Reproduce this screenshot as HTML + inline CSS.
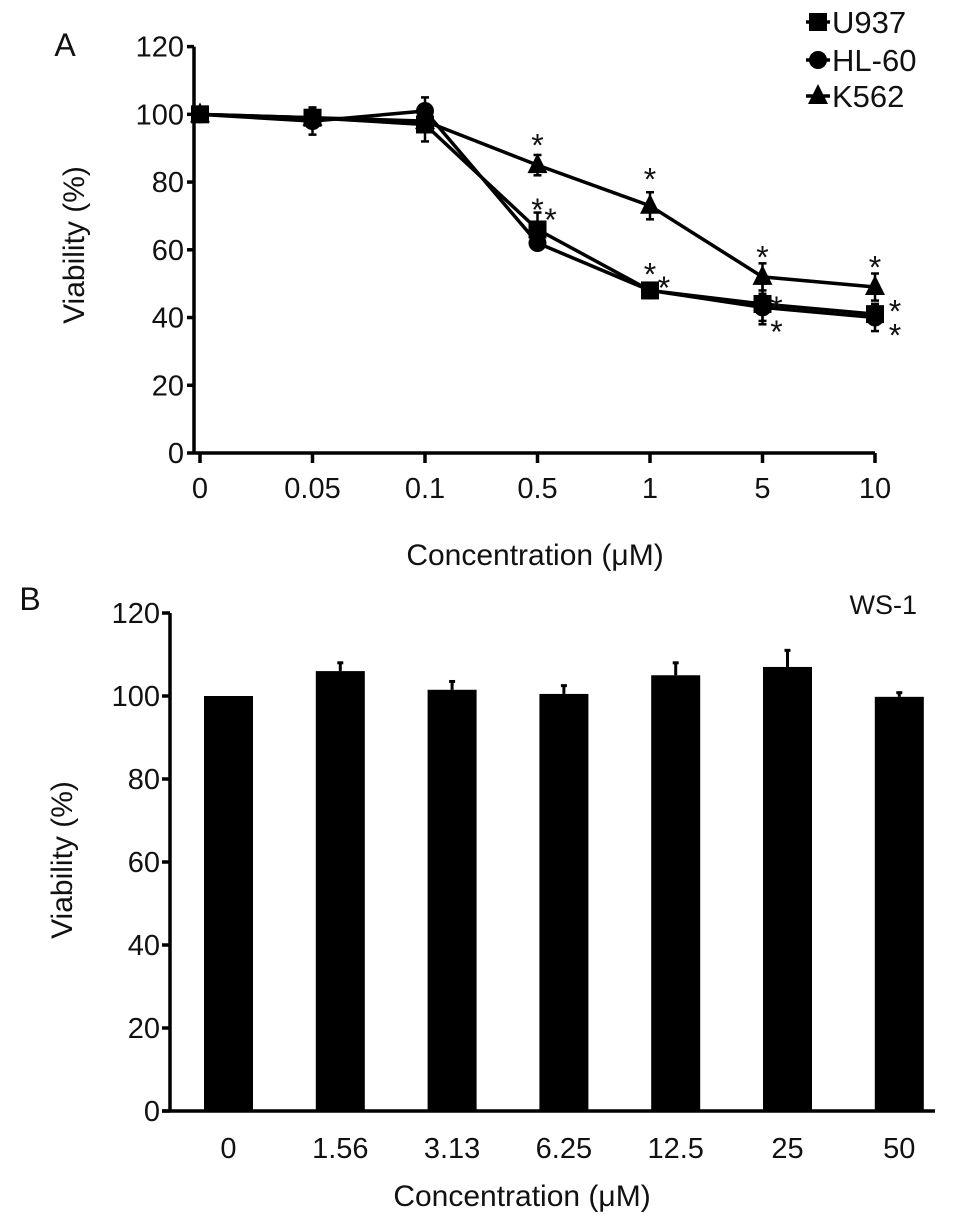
<!DOCTYPE html>
<html><head><meta charset="utf-8"><style>
body{margin:0;background:#fff}
svg text{font-family:"Liberation Sans",sans-serif;fill:#111}
</style></head><body>
<svg id="c" width="969" height="1224" xmlns="http://www.w3.org/2000/svg"></svg>
<script>
const catsA=["0","0.05","0.1","0.5","1","5","10"];
const u937=[100,99,97,66,48,44,41];
const u937Err=[2,3,5,5,2,6,3];
const hl60=[100,98,101,62,48,43,40];
const hl60Err=[2,4,4,2,2,4,4];
const k562=[100,99,98,85,73,52,49];
const k562Err=[2,2,3,3,4,4,4];
const ticksA=[0,20,40,60,80,100,120];
const catsB=["0","1.56","3.13","6.25","12.5","25","50"];
const ws1=[100,106,101.5,100.5,105,107,99.8];
const ws1Err=[0,2,2,2,3,4,1];
const ticksB=[0,20,40,60,80,100,120];

const svg=document.getElementById('c');
const NS="http://www.w3.org/2000/svg";
function mk(tag,attrs,name,parent){const e=document.createElementNS(NS,tag);for(const k in attrs)e.setAttribute(k,attrs[k]);


(parent||svg).appendChild(e);return e;}
function txt(x,y,s,size,anchor,name,extra){const t=mk('text',Object.assign({x:x,y:y,'font-size':size,'text-anchor':anchor||'middle'},extra||{}),name);t.textContent=s;return t;}

// Panel A
const ax={x0:194,x1:875,y0:453,yTop:46.6,px0:200,step:112.5};
const xA=i=>ax.px0+i*ax.step;
const yA=v=>ax.y0-v*(ax.y0-ax.yTop)/120;
txt(65,56,"A",32,"middle","panel-a-label");
mk('line',{x1:ax.x0,y1:yA(120),x2:ax.x0,y2:ax.y0,stroke:'#000','stroke-width':3.5},'y-axis-a');
mk('line',{x1:ax.x0,y1:ax.y0,x2:ax.x1,y2:ax.y0,stroke:'#000','stroke-width':3.5},'x-axis-a');
ticksA.forEach(v=>{mk('line',{x1:ax.x0-7,y1:yA(v),x2:ax.x0,y2:yA(v),stroke:'#000','stroke-width':3.5},'y-tick-a');
txt(ax.x0-10,yA(v)+10,String(v),29,"end","y-tick-label-a");});
catsA.forEach((c,i)=>{mk('line',{x1:xA(i),y1:ax.y0,x2:xA(i),y2:ax.y0+10,stroke:'#000','stroke-width':3.5},'x-tick-a');
txt(xA(i),ax.y0+45,c,29,"middle","x-tick-label-a");});
txt(535,565,"Concentration (\u03bcM)",30,"middle","x-axis-title-a");
txt(84,245,"Viability (%)",30,"middle","y-axis-title-a",{transform:"rotate(-90 84 245)"});

function series(vals,errs,shape,name){
  let d=vals.map((v,i)=>(i?'L':'M')+xA(i)+' '+yA(v)).join(' ');
  mk('path',{d:d,fill:'none',stroke:'#000','stroke-width':3.5},name+'-line');
  vals.forEach((v,i)=>{const x=xA(i),y=yA(v),e=errs[i]*(ax.y0-ax.yTop)/120;
    mk('line',{x1:x,y1:y-e,x2:x,y2:y+e,stroke:'#000','stroke-width':2.5},name+'-error-bar');
    mk('line',{x1:x-4,y1:y-e,x2:x+4,y2:y-e,stroke:'#000','stroke-width':2.5},name+'-error-cap');
    mk('line',{x1:x-4,y1:y+e,x2:x+4,y2:y+e,stroke:'#000','stroke-width':2.5},name+'-error-cap');
    marker(x,y,shape,name+'-point');});
}
function marker(x,y,shape,name){
  if(shape==='sq')mk('rect',{x:x-9,y:y-9,width:18,height:18,fill:'#000'},name);
  else if(shape==='ci')mk('circle',{cx:x,cy:y,r:9,fill:'#000'},name);
  else mk('path',{d:`M${x} ${y-12}L${x+10} ${y+8}L${x-10} ${y+8}Z`,fill:'#000'},name);
}
series(hl60,hl60Err,'ci','hl60');
series(u937,u937Err,'sq','u937');
series(k562,k562Err,'tr','k562');

// significance stars
const stars=[[3,k562[3]+9,0],[4,k562[4]+11,0],[5,k562[5]+9,0],[6,k562[6]+9,0],
[3,u937[3]+9,0],[3,u937[3]+6,13],[4,u937[4]+8,0],[4,u937[4]+4,14],[5,u937[5]+2,14],[5,hl60[5]-4,14],[6,u937[6]+4,20],[6,hl60[6]-2,20]];
stars.forEach(s=>txt(xA(s[0])+s[2],yA(s[1])+22,"*",32,"middle","significance-star",{fill:'#333'}));

// legend
[["sq","U937",22],["ci","HL-60",60],["tr","K562",96]].forEach(l=>{
  mk('line',{x1:806,y1:l[2],x2:830,y2:l[2],stroke:'#000','stroke-width':3.5},'legend-line');
  marker(818,l[2],l[0],'legend-marker');
  txt(832,l[2]+11,l[1],31,"start","legend-entry");
});

// Panel B
const bx={x0:170,x1:935,y0:1111,yTop:613};
const xB=i=>228.5+i*111.8;
const yB=v=>bx.y0-v*(bx.y0-bx.yTop)/120;
txt(30,610,"B",32,"middle","panel-b-label");
txt(917,614,"WS-1",27,"end","cell-line-label");
ws1.forEach((v,i)=>{const x=xB(i),y=yB(v),e=ws1Err[i]*(bx.y0-bx.yTop)/120;
  if(e>0){mk('line',{x1:x,y1:y-e,x2:x,y2:y,stroke:'#000','stroke-width':3},'bar-error');
  mk('line',{x1:x-3,y1:y-e,x2:x+3,y2:y-e,stroke:'#000','stroke-width':3},'bar-error-cap');}
  mk('rect',{x:x-24.5,y:y,width:49,height:bx.y0-y,fill:'#000'},'bar-'+catsB[i]);
  txt(x,bx.y0+47,catsB[i],29,"middle","x-tick-label-b");});
mk('line',{x1:bx.x0,y1:yB(120),x2:bx.x0,y2:bx.y0,stroke:'#000','stroke-width':3.5},'y-axis-b');
mk('line',{x1:bx.x0-8,y1:bx.y0,x2:bx.x1,y2:bx.y0,stroke:'#000','stroke-width':3.5},'x-axis-b');
ticksB.forEach(v=>{mk('line',{x1:bx.x0-8,y1:yB(v),x2:bx.x0,y2:yB(v),stroke:'#000','stroke-width':3.5},'y-tick-b');
txt(bx.x0-10,yB(v)+10,String(v),29,"end","y-tick-label-b");});
txt(522,1206,"Concentration (\u03bcM)",30,"middle","x-axis-title-b");
txt(72,860,"Viability (%)",30,"middle","y-axis-title-b",{transform:"rotate(-90 72 860)"});
</script>
</body></html>
